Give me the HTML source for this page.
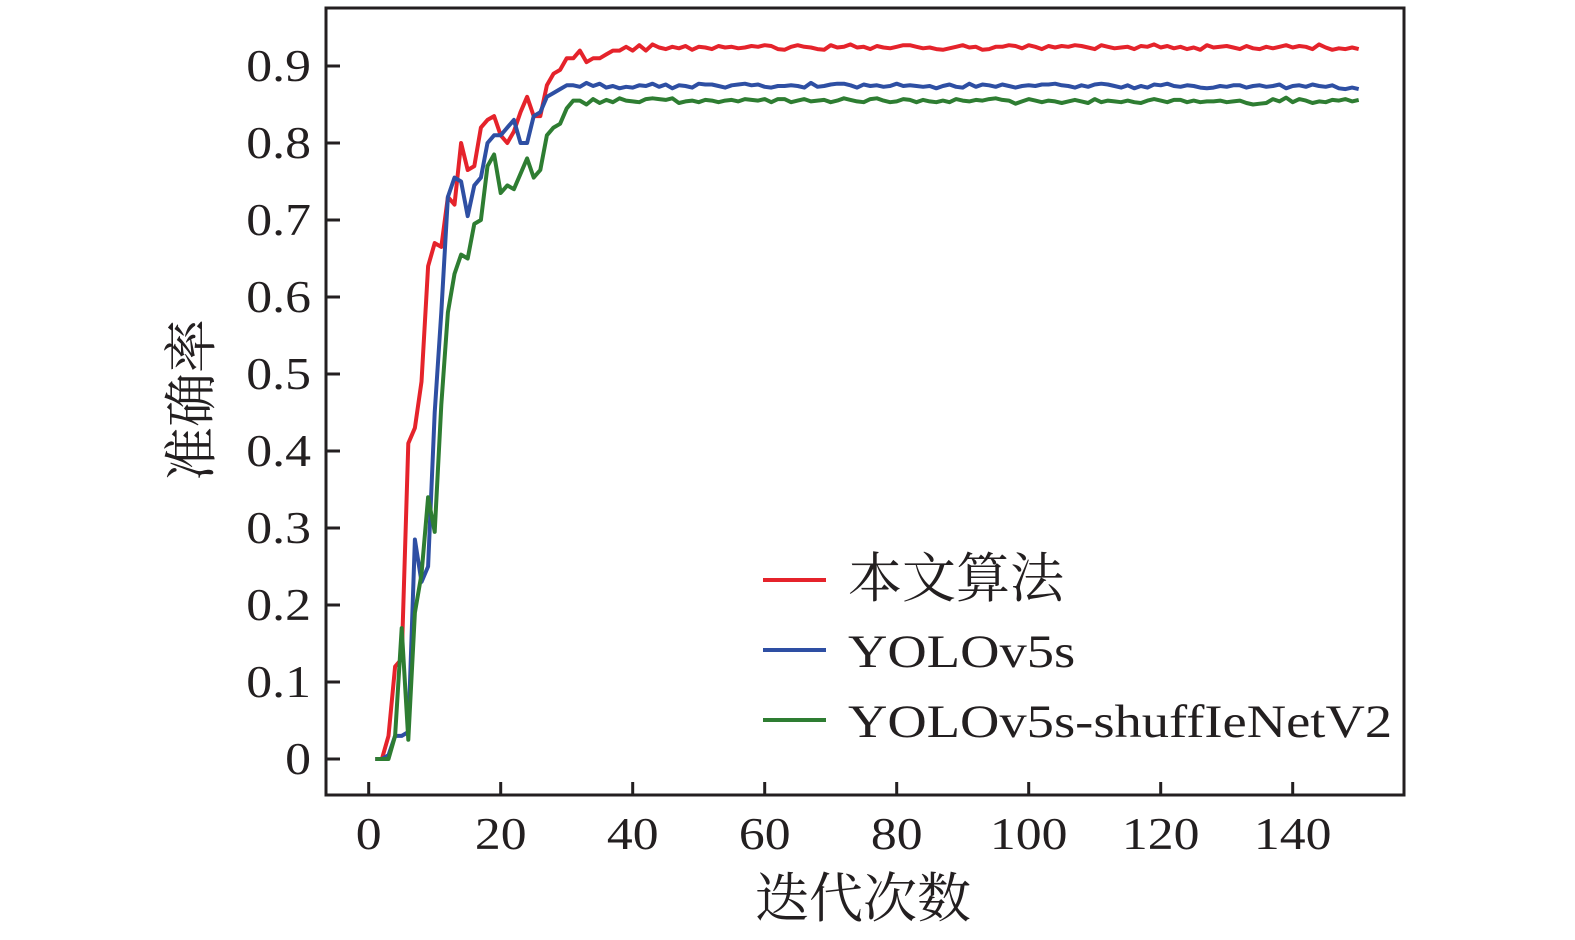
<!DOCTYPE html>
<html><head><meta charset="utf-8"><style>
body{margin:0;background:#fff}
svg text{font-family:"Liberation Serif","Noto Serif CJK SC",serif;fill:#231f20}
</style></head><body>
<svg width="1575" height="935" viewBox="0 0 1575 935">
<g id="axes"></g>
<g id="series"></g>
<g id="legend"></g>
</svg>
<script>
const epochs = Array.from({length:150},(_,i)=>i+1);
const redHead = [0,0,0.03,0.12,0.13,0.41,0.43,0.49,0.64,0.67,0.665,0.73,0.72,0.80,0.765,0.77,0.82,0.83,0.835,0.81,0.80,0.815,0.84,0.86,0.835,0.835,0.875,0.89,0.895,0.91,0.91,0.92,0.905,0.91,0.91,0.915,0.92,0.92,0.925,0.92];
const redTail = [0.927,0.92,0.928,0.924,0.922,0.925,0.923,0.926,0.921,0.925,0.924,0.922,0.926,0.924,0.925,0.923,0.924,0.926,0.925,0.927,0.926,0.922,0.921,0.925,0.927,0.925,0.924,0.922,0.921,0.927,0.924,0.925,0.928,0.924,0.925,0.922,0.926,0.924,0.923,0.925,0.927,0.927,0.925,0.923,0.924,0.922,0.921,0.923,0.925,0.927,0.924,0.925,0.921,0.922,0.925,0.925,0.927,0.926,0.923,0.927,0.925,0.922,0.926,0.924,0.926,0.925,0.927,0.926,0.924,0.922,0.927,0.925,0.923,0.924,0.925,0.922,0.926,0.925,0.928,0.924,0.926,0.923,0.925,0.922,0.924,0.921,0.927,0.924,0.925,0.926,0.924,0.922,0.926,0.923,0.922,0.925,0.923,0.925,0.927,0.924,0.926,0.925,0.922,0.928,0.924,0.921,0.923,0.922,0.924,0.922];
const blueHead = [0,0,0.005,0.03,0.03,0.035,0.285,0.23,0.25,0.45,0.58,0.73,0.755,0.75,0.705,0.745,0.755,0.80,0.81,0.81,0.82,0.83,0.80,0.80,0.835,0.84,0.86,0.865,0.87,0.875];
const blueTail = [0.875,0.873,0.878,0.874,0.877,0.872,0.874,0.871,0.873,0.872,0.875,0.874,0.877,0.873,0.876,0.871,0.875,0.874,0.872,0.877,0.876,0.876,0.874,0.872,0.875,0.876,0.877,0.875,0.876,0.873,0.872,0.874,0.874,0.875,0.874,0.872,0.878,0.873,0.874,0.876,0.877,0.877,0.875,0.872,0.876,0.874,0.875,0.873,0.874,0.877,0.874,0.875,0.874,0.873,0.874,0.871,0.874,0.876,0.873,0.872,0.877,0.873,0.876,0.875,0.873,0.876,0.874,0.872,0.874,0.875,0.874,0.876,0.876,0.877,0.875,0.874,0.872,0.875,0.873,0.876,0.877,0.876,0.874,0.872,0.875,0.871,0.874,0.872,0.876,0.875,0.877,0.874,0.873,0.875,0.874,0.872,0.871,0.872,0.874,0.873,0.875,0.875,0.872,0.874,0.875,0.873,0.874,0.876,0.871,0.874,0.875,0.873,0.876,0.874,0.873,0.875,0.871,0.870,0.872,0.870];
const greenHead = [0,0,0,0.03,0.17,0.025,0.19,0.24,0.34,0.295,0.46,0.58,0.63,0.655,0.65,0.695,0.70,0.77,0.785,0.735,0.745,0.74,0.76,0.78,0.755,0.765,0.81,0.82,0.825,0.845,0.855,0.855];
const greenTail = [0.85,0.857,0.852,0.856,0.853,0.858,0.855,0.854,0.853,0.857,0.858,0.857,0.856,0.858,0.852,0.854,0.855,0.853,0.856,0.855,0.853,0.855,0.856,0.854,0.857,0.856,0.855,0.857,0.853,0.857,0.857,0.853,0.855,0.857,0.854,0.855,0.856,0.853,0.855,0.858,0.856,0.854,0.853,0.857,0.858,0.855,0.853,0.854,0.857,0.856,0.853,0.856,0.854,0.853,0.855,0.853,0.857,0.855,0.854,0.856,0.855,0.857,0.858,0.856,0.855,0.851,0.854,0.857,0.855,0.853,0.855,0.854,0.852,0.854,0.856,0.854,0.852,0.857,0.853,0.855,0.854,0.853,0.855,0.853,0.852,0.855,0.857,0.855,0.853,0.856,0.856,0.853,0.855,0.853,0.854,0.854,0.855,0.853,0.854,0.855,0.852,0.850,0.851,0.852,0.857,0.854,0.859,0.853,0.857,0.855,0.852,0.854,0.853,0.856,0.855,0.857,0.854,0.856];
const redVals = redHead.concat(redTail);
const blueVals = blueHead.concat(blueTail);
const greenVals = greenHead.concat(greenTail);
const xTicks = [0,20,40,60,80,100,120,140];
const yTicks = [0,0.1,0.2,0.3,0.4,0.5,0.6,0.7,0.8,0.9];
const yTickLabels = ["0","0.1","0.2","0.3","0.4","0.5","0.6","0.7","0.8","0.9"];
const seriesNames = ["本文算法","YOLOv5s","YOLOv5s-shuffIeNetV2"];

const NS="http://www.w3.org/2000/svg";
const X=v=>368.7+v*6.6;
const Y=v=>759-v*770;
function mk(tag,attrs,parent,text){const e=document.createElementNS(NS,tag);for(const k in attrs)e.setAttribute(k,attrs[k]);if(text!==undefined)e.textContent=text;parent.appendChild(e);return e;}
function widen(e,f){const w=e.getComputedTextLength();e.setAttribute('textLength',(w*f).toFixed(1));e.setAttribute('lengthAdjust','spacingAndGlyphs');}
const axes=document.getElementById('axes'),series=document.getElementById('series'),legend=document.getElementById('legend');
const box=mk('rect',{x:326,y:8,width:1078,height:787,fill:'none',stroke:'#231f20','stroke-width':3},axes);


xTicks.forEach(t=>{
  const l=mk('line',{x1:X(t),x2:X(t),y1:795,y2:782,stroke:'#231f20','stroke-width':3},axes);
  
  
  const tx=mk('text',{x:X(t),y:849,'text-anchor':'middle','font-size':45},axes,String(t));
  
  
  widen(tx,1.15);
});
yTicks.forEach((t,i)=>{
  const l=mk('line',{x1:326,x2:340,y1:Y(t),y2:Y(t),stroke:'#231f20','stroke-width':3},axes);
  
  
  const tx=mk('text',{x:311,y:Y(t)+15,'text-anchor':'end','font-size':45},axes,yTickLabels[i]);
  
  
  widen(tx,1.15);
});
const xt=mk('text',{x:863,y:917,'text-anchor':'middle','font-size':54},axes,'迭代次数');


const yt=mk('text',{x:0,y:0,'text-anchor':'middle','font-size':54,transform:'translate(210,400) rotate(-90)'},axes,'准确率');


const colors=['#e5232b','#2e4fa3','#2e7d32'];
[redVals,blueVals,greenVals].forEach((vals,si)=>{
  const pts=vals.map((v,i)=>X(epochs[i]).toFixed(1)+','+Y(v).toFixed(1)).join(' ');
  const p=mk('polyline',{points:pts,fill:'none',stroke:colors[si],'stroke-width':4,'stroke-linejoin':'round'},series);
  
  
  const ly=580+si*70;
  const ll=mk('line',{x1:763,x2:826,y1:ly,y2:ly,stroke:colors[si],'stroke-width':4},legend);
  
  
  const lt=mk('text',{x:848,y:ly+17,'font-size':si===0?54:47},legend,seriesNames[si]);
  
  
  if(si>0) widen(lt,1.16);
});
</script>
</body></html>
